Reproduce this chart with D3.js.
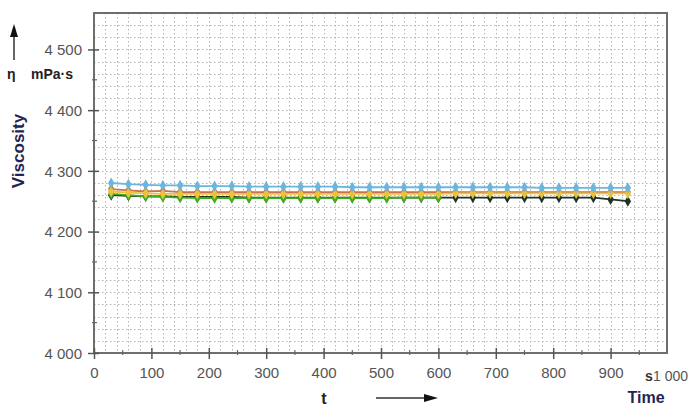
<!DOCTYPE html>
<html>
<head>
<meta charset="utf-8">
<script src="https://cdn.jsdelivr.net/npm/d3@7"></script>
<style>
  html, body { margin: 0; padding: 0; background: #fff; }
  svg { display: block; font-family: Arial, 'Liberation Sans', sans-serif; }
</style>
</head>
<body>
<svg id="chart" width="690" height="408"></svg>
<script>
// time points (s)
const times = [30, 60, 90, 120, 150, 180, 210, 240, 270, 300, 330, 360, 390, 420, 450, 480,
  510, 540, 570, 600, 630, 660, 690, 720, 750, 780, 810, 840, 870, 900, 930];

// viscosity (mPa·s) for each run
const blueRun = [4280, 4278, 4277, 4276, 4276, 4275, 4275, 4275, 4274, 4274, 4274, 4274, 4274, 4274, 4273, 4273,
  4273, 4273, 4273, 4273, 4273, 4273, 4273, 4273, 4273, 4272, 4272, 4272, 4272, 4272, 4272];
const orangeRun = [4270, 4268, 4266, 4267, 4265, 4265, 4265, 4265, 4265, 4265, 4265, 4265, 4265, 4265, 4265, 4265,
  4265, 4265, 4265, 4265, 4265, 4265, 4265, 4265, 4265, 4265, 4265, 4265, 4265, 4265, 4265];
const yellowRun = [4266, 4264, 4263, 4262, 4262, 4262, 4262, 4262, 4262, 4262, 4262, 4262, 4262, 4262, 4262, 4262,
  4262, 4262, 4262, 4262, 4263, 4263, 4263, 4263, 4263, 4263, 4263, 4263, 4263, 4263, 4263];
const greenRun = [4262, 4260, 4258, 4257, 4256, 4255, 4255, 4255, 4255, 4255, 4255, 4255, 4255, 4255, 4255, 4255,
  4255, 4256, 4256, 4256];
const darkRun = [4260, 4259, 4258, 4258, 4257, 4257, 4257, 4257, 4256, 4256, 4256, 4256, 4256, 4256, 4256, 4256,
  4256, 4256, 4256, 4256, 4256, 4256, 4256, 4256, 4256, 4256, 4256, 4256, 4256, 4253, 4250];

const xTicks = [0, 100, 200, 300, 400, 500, 600, 700, 800, 900];
const yTicks = [4000, 4100, 4200, 4300, 4400, 4500];

const series = [
  { name: 'dark', color: '#1d3326', values: darkRun },
  { name: 'green', color: '#3fae1e', values: greenRun },
  { name: 'orange', color: '#c7744c', values: orangeRun },
  { name: 'yellow', color: '#efc13a', values: yellowRun },
  { name: 'blue', color: '#6cb6de', values: blueRun }
];

const svg = d3.select('#chart');
const plotL = 94, plotR = 667, plotT = 13, plotB = 353;

const x = d3.scaleLinear().domain([0, 1000]).range([plotL, 668]);
const y = d3.scaleLinear().domain([4000, 4560]).range([plotB, plotT]);

// dotted grid
const grid = svg.append('g').attr('stroke', '#b5b5b5').attr('stroke-width', 1)
  .attr('stroke-dasharray', '1.5,2.5');
grid.selectAll('line.v').data(d3.range(20, 1000, 20)).enter().append('line')
  .attr('x1', (d) => Math.round(x(d)) + 0.5).attr('x2', (d) => Math.round(x(d)) + 0.5)
  .attr('y1', plotT).attr('y2', plotB);
grid.selectAll('line.h').data(d3.range(4020, 4560, 20)).enter().append('line')
  .attr('y1', (d) => Math.round(y(d)) + 0.5).attr('y2', (d) => Math.round(y(d)) + 0.5)
  .attr('x1', plotL).attr('x2', plotR);

// frame
svg.append('path')
  .attr('d', `M${plotL},${plotB}V${plotT}H${plotR}V${plotB}H${plotL}`)
  .attr('fill', 'none').attr('stroke', '#6e6e6e').attr('stroke-width', 2);

// axes
const yAxis = svg.append('g').attr('transform', `translate(${plotL},0)`)
  .call(d3.axisLeft(y).tickValues(yTicks).tickSize(6).tickFormat((d) => d3.format(',')(d).replace(',', ' ')));
const xAxis = svg.append('g').attr('transform', `translate(0,${plotB})`)
  .call(d3.axisBottom(x).tickValues(xTicks).tickSize(6).tickFormat((d) => String(d)));

[xAxis, yAxis].forEach((a) => {
  a.select('.domain').remove();
  a.selectAll('line').attr('stroke', '#555').attr('stroke-width', 1.5);
  a.selectAll('text').attr('fill', '#555').style('font-size', '15px');
});
yAxis.selectAll('line').attr('x1', 5);
yAxis.selectAll('text').attr('x', -12).attr('dy', '0.36em');
xAxis.selectAll('line').attr('y1', -5);
xAxis.selectAll('text').attr('y', 14);

// minor ticks
svg.append('g').selectAll('line').data([4050, 4150, 4250, 4350, 4450]).enter().append('line')
  .attr('x1', plotL - 2).attr('x2', plotL + 3).attr('y1', (d) => y(d)).attr('y2', (d) => y(d))
  .attr('stroke', '#666').attr('stroke-width', 1.2);
svg.append('g').selectAll('line').data([50, 150, 250, 350, 450, 550, 650, 750, 850, 950]).enter().append('line')
  .attr('x1', (d) => x(d)).attr('x2', (d) => x(d)).attr('y1', plotB - 3).attr('y2', plotB + 2)
  .attr('stroke', '#666').attr('stroke-width', 1.2);

// last x label with unit
svg.append('text').attr('x', 645).attr('y', plotB + 28).attr('fill', '#333')
  .style('font-size', '14px').style('font-weight', 'bold').text('s');
svg.append('text').attr('x', 653).attr('y', plotB + 28).attr('fill', '#555')
  .style('font-size', '14px').text('1 000');

// series
const line = d3.line().x((d) => x(d[0])).y((d) => y(d[1]));
const diamond = d3.symbol().type(d3.symbolDiamond).size(36);

series.forEach((s) => {
  const pts = s.values.map((v, i) => [times[i], v]);
  svg.append('path').datum(pts)
    .attr('d', line).attr('fill', 'none').attr('stroke', s.color).attr('stroke-width', 1.8);
  svg.append('g').selectAll('path').data(pts).enter().append('path')
    .attr('d', diamond)
    .attr('transform', (d) => `translate(${x(d[0])},${y(d[1])})`)
    .attr('fill', s.color);
});

// axis titles
svg.append('text').attr('transform', 'translate(24,151) rotate(-90)')
  .attr('text-anchor', 'middle').attr('fill', '#1f2556')
  .style('font-size', '17px').style('font-weight', 'bold').text('Viscosity');

svg.append('text').attr('x', 7).attr('y', 79).attr('fill', '#222')
  .style('font-size', '14px').style('font-weight', 'bold').text('η');
svg.append('text').attr('x', 31).attr('y', 79).attr('fill', '#222')
  .style('font-size', '14px').style('font-weight', 'bold').text('mPa·s');

svg.append('text').attr('x', 324).attr('y', 404).attr('text-anchor', 'middle').attr('fill', '#222')
  .style('font-size', '16px').style('font-weight', 'bold').text('t');
svg.append('text').attr('x', 646).attr('y', 403).attr('text-anchor', 'middle').attr('fill', '#1f2556')
  .style('font-size', '16px').style('font-weight', 'bold').text('Time');

// arrows
svg.append('line').attr('x1', 14).attr('x2', 14).attr('y1', 60).attr('y2', 34)
  .attr('stroke', '#333').attr('stroke-width', 1.5);
svg.append('path').attr('d', 'M14,24L10,37L18,37Z').attr('fill', '#111');
svg.append('line').attr('x1', 376).attr('x2', 426).attr('y1', 398).attr('y2', 398)
  .attr('stroke', '#333').attr('stroke-width', 1.5);
svg.append('path').attr('d', 'M438,398L424,394L424,402Z').attr('fill', '#111');
</script>
</body>
</html>
